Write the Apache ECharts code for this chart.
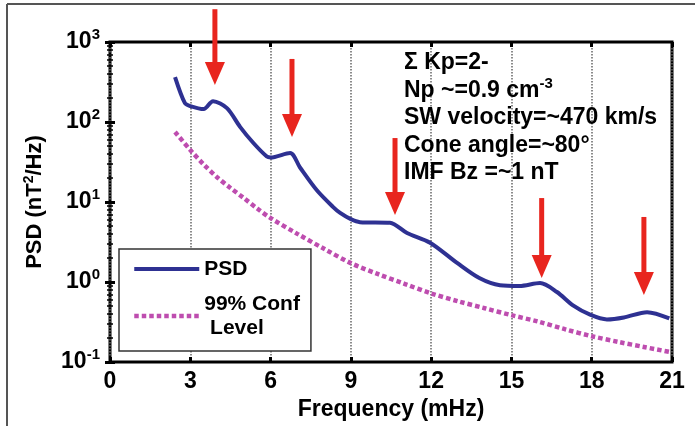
<!DOCTYPE html>
<html>
<head>
<meta charset="utf-8">
<script src="https://cdn.jsdelivr.net/npm/echarts@6/dist/echarts.min.js"></script>
<style>
  html, body { margin: 0; padding: 0; background: #fff; }
  #chart { width: 695px; height: 426px; }
</style>
</head>
<body>
<div id="chart"></div>
<script>
// Values.
var psdFreq = [2.43, 2.8, 3.0, 3.5, 3.85, 4.37, 4.86, 5.35, 5.86, 6.0, 6.73, 7.1, 7.73, 8.33, 8.6, 9.0,
  9.34, 10.46, 11.1, 11.96, 12.97, 13.8, 14.57, 15.3, 16.07, 16.7, 17.3, 17.94, 18.57, 19.2, 20.07, 20.9];
var psdValue = [365, 172, 158, 145, 182, 149, 87, 55, 37, 36, 41, 27, 14, 8.7, 7.3, 6.1,
  5.6, 5.5, 4.1, 3.1, 1.73, 1.12, 0.91, 0.89, 0.97, 0.75, 0.51, 0.39, 0.34, 0.36, 0.42, 0.35];

var confFreq = [2.43, 3, 3.5, 4, 4.5, 5, 5.5, 6, 7, 8, 9, 10, 11, 12, 13, 14, 15, 16, 17, 18, 19, 20, 21];
var confValue = [75, 44.7, 29.5, 20.4, 15, 11.2, 8.3, 6.3, 4.0, 2.6, 1.72, 1.26, 0.95, 0.72, 0.575, 0.47,
  0.385, 0.32, 0.257, 0.21, 0.178, 0.153, 0.132];

// Red arrows: frequency, tail value, tip value
var arrowFreq = [3.92, 6.8, 10.65, 16.13, 19.95];
var arrowTail = [2570, 614, 63, 11.2, 6.5];
var arrowTip = [290, 65, 6.9, 1.12, 0.69];

var annotationLines = [
  'Σ Kp=2-',
  'Np ~=0.9 cm{s|-3}',
  'SW velocity=~470 km/s',
  'Cone angle=~80°',
  'IMF Bz =~1 nT'
];

var FONT = '"Liberation Sans", Arial, sans-serif';

function zip(a, b) {
  return a.map(function (v, i) { return [v, b[i]]; });
}

var chart = echarts.init(document.getElementById('chart'), null, {renderer: 'canvas'});

var supRich = {
  b: {fontSize: 23, fontWeight: 'bold', fontFamily: FONT, color: '#000'},
  s: {fontSize: 15, fontWeight: 'bold', fontFamily: FONT, color: '#000', padding: [0, 0, 14, 0]}
};
var nameRich = {
  b: {fontSize: 22, fontWeight: 'bold', fontFamily: FONT, color: '#000'},
  s: {fontSize: 14, fontWeight: 'bold', fontFamily: FONT, color: '#000', padding: [0, 0, 12, 0]}
};

var option = {
  animation: false,
  backgroundColor: '#fff',
  grid: {
    left: 110,
    top: 42,
    right: 23,
    bottom: 64,
    show: true,
    borderColor: '#000',
    borderWidth: 3,
    backgroundColor: 'transparent'
  },
  legend: {
    left: 119,
    top: 249,
    orient: 'vertical',
    padding: [8, 11, 11, 13],
    itemGap: 11,
    itemWidth: 65,
    itemHeight: 14,
    backgroundColor: '#fff',
    borderColor: '#333',
    borderWidth: 1.5,
    borderRadius: 0,
    itemStyle: {opacity: 0},
    lineStyle: {width: 'inherit'},
    textStyle: {fontSize: 21, fontWeight: 'bold', fontFamily: FONT, color: '#000', lineHeight: 24},
    data: ['PSD', '99% Conf\n Level']
  },
  xAxis: [{
    type: 'value',
    min: 0,
    max: 21,
    interval: 3,
    name: 'Frequency (mHz)',
    nameLocation: 'middle',
    nameGap: 36,
    nameTextStyle: {fontSize: 23, fontWeight: 'bold', fontFamily: FONT, color: '#000'},
    axisLine: {show: false},
    axisTick: {show: true, inside: true, length: 5, lineStyle: {color: '#000', width: 3}},
    axisLabel: {fontSize: 23, fontWeight: 'bold', fontFamily: FONT, color: '#000', margin: 8},
    splitLine: {show: true, lineStyle: {color: '#666', width: 1.5, type: [1.5, 1.5]}}
  }, {
    type: 'value',
    position: 'top',
    min: 0,
    max: 21,
    interval: 3,
    axisLine: {show: false},
    axisTick: {show: true, inside: true, length: 5, lineStyle: {color: '#000', width: 3}},
    axisLabel: {show: false},
    splitLine: {show: false}
  }],
  yAxis: [{
    type: 'log',
    logBase: 10,
    min: 0.1,
    max: 1000,
    name: '{b|PSD (nT}{s|2}{b|/Hz)}',
    nameLocation: 'middle',
    nameGap: 62,
    nameTextStyle: {rich: nameRich},
    axisLine: {show: false},
    axisTick: {show: true, inside: true, length: 5, lineStyle: {color: '#000', width: 3}},
    minorTick: {show: true, splitNumber: 9, length: 3, lineStyle: {color: '#000', width: 1.5}},
    axisLabel: {
      margin: 10,
      formatter: function (v) {
        return '{b|10}{s|' + Math.round(Math.log10(v)) + '}';
      },
      rich: supRich
    },
    splitLine: {show: false}
  }, {
    type: 'log',
    logBase: 10,
    min: 0.1,
    max: 1000,
    position: 'right',
    axisLine: {show: false},
    axisTick: {show: true, inside: true, length: 5, lineStyle: {color: '#000', width: 3}},
    minorTick: {show: true, splitNumber: 9, length: 3, lineStyle: {color: '#000', width: 1.5}},
    axisLabel: {show: false},
    splitLine: {show: false}
  }],
  series: [{
    name: 'PSD',
    type: 'line',
    data: zip(psdFreq, psdValue),
    smooth: 0.3,
    symbol: 'none',
    color: '#2E3192',
    lineStyle: {color: '#2E3192', width: 4},
    z: 3
  }, {
    name: '99% Conf\n Level',
    type: 'line',
    data: zip(confFreq, confValue),
    smooth: 0.3,
    symbol: 'none',
    color: '#BE4DAF',
    lineStyle: {color: '#BE4DAF', width: 4.5, type: [4.5, 3]},
    z: 2
  }, {
    name: 'arrows',
    type: 'custom',
    data: arrowFreq.map(function (f, i) { return [f, arrowTail[i], arrowTip[i]]; }),
    renderItem: function (params, api) {
      var tail = api.coord([api.value(0), api.value(1)]);
      var tip = api.coord([api.value(0), api.value(2)]);
      var headLen = 23, headHalf = 10;
      return {
        type: 'group',
        children: [{
          type: 'line',
          shape: {x1: tail[0], y1: tail[1], x2: tip[0], y2: tip[1] - headLen + 2},
          style: {stroke: '#E8251E', lineWidth: 5}
        }, {
          type: 'polygon',
          shape: {points: [[tip[0] - headHalf, tip[1] - headLen], [tip[0] + headHalf, tip[1] - headLen], [tip[0], tip[1]]]},
          style: {fill: '#E8251E'}
        }]
      };
    },
    z: 5
  }],
  graphic: [{
    type: 'text',
    left: 404,
    top: 49,
    style: {
      text: annotationLines.join('\n'),
      fontSize: 23,
      fontWeight: 'bold',
      fontFamily: FONT,
      fill: '#000',
      lineHeight: 27.5,
      rich: {
        s: {fontSize: 15, fontWeight: 'bold', fontFamily: FONT, fill: '#000', padding: [0, 0, 12, 0]}
      }
    },
    z: 10
  }, {
    type: 'line',
    shape: {x1: 7, y1: 4, x2: 695, y2: 4},
    style: {stroke: '#555', lineWidth: 2}
  }, {
    type: 'line',
    shape: {x1: 7, y1: 4, x2: 7, y2: 426},
    style: {stroke: '#555', lineWidth: 2}
  }]
};

chart.setOption(option);
</script>
</body>
</html>
